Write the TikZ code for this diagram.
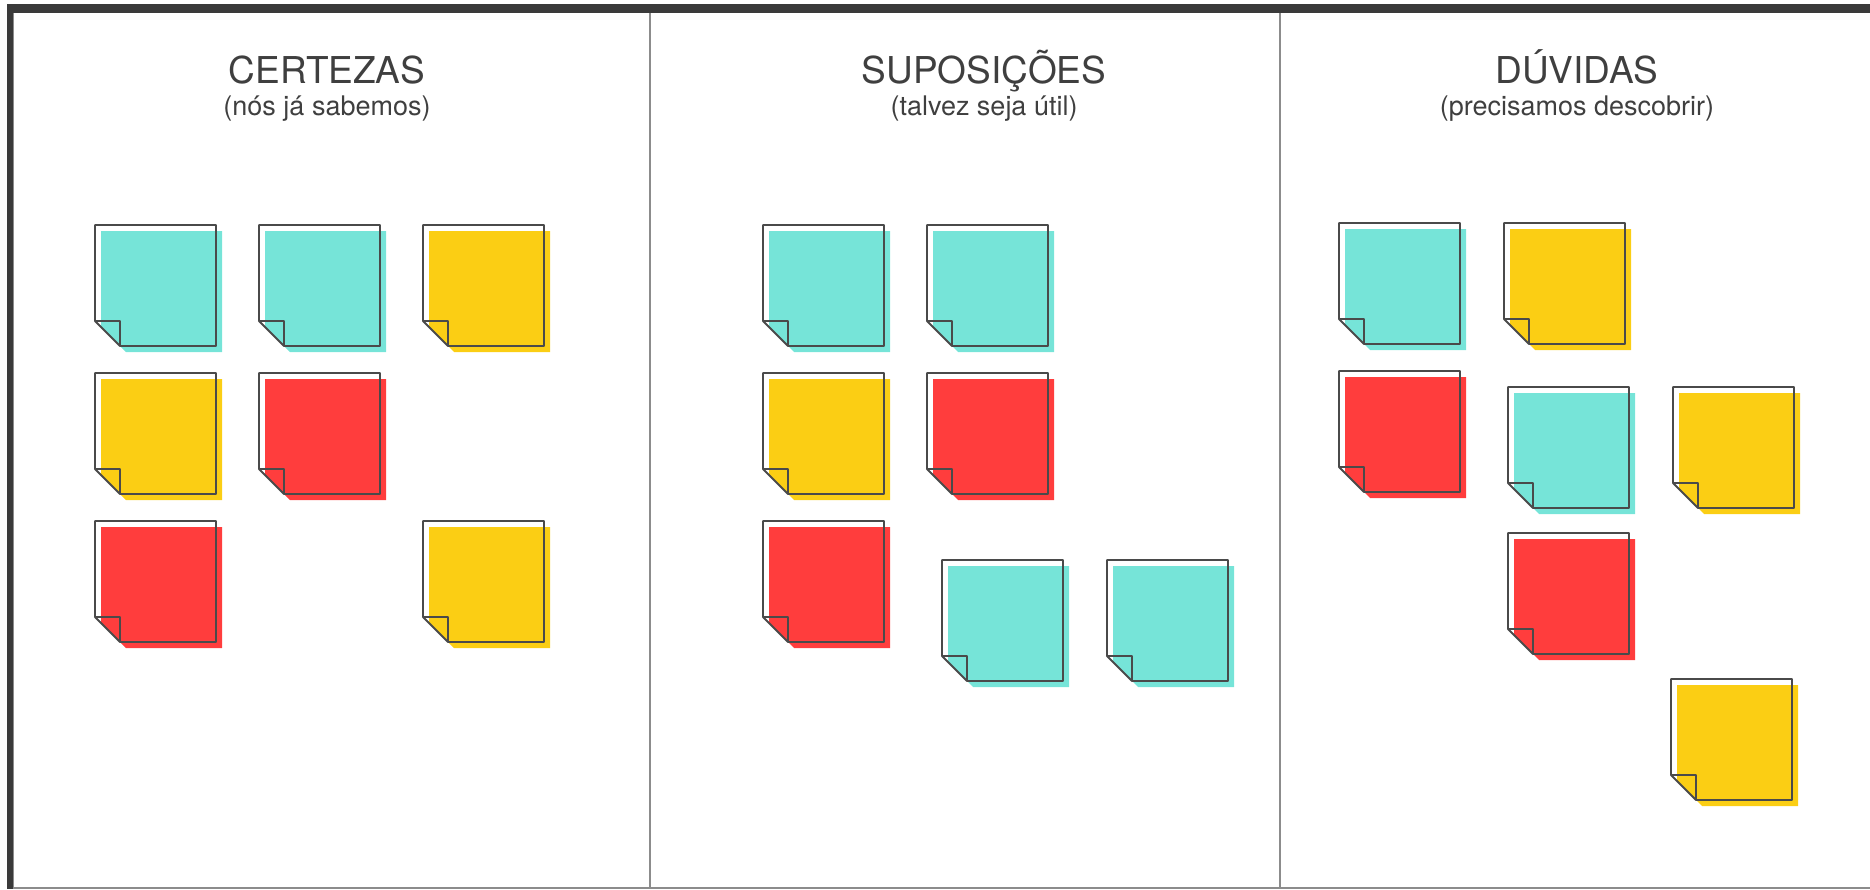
\documentclass[tikz,border=0pt]{standalone}
\usepackage{fontspec}
\setmainfont{TeX Gyre Heros}
\usepackage{xcolor}
\usepackage{tikz}
\usetikzlibrary{positioning}
\definecolor{ink}{HTML}{3F3F3F}
\definecolor{board}{HTML}{3A3A3A}
\definecolor{rule}{HTML}{8C8C8C}
\definecolor{noteline}{HTML}{4A4A4A}
\definecolor{postteal}{HTML}{76E4D8}
\definecolor{postyellow}{HTML}{FBCE14}
\definecolor{postred}{HTML}{FF3D3D}

\tikzset{
  coltitle/.style={font=\fontsize{37}{40}\selectfont, text=ink, anchor=base, inner sep=0pt},
  colsub/.style={font=\fontsize{27}{30}\selectfont, text=ink, anchor=base, inner sep=0pt},
  note line/.style={draw=noteline, line width=1.8pt, line join=round}
}
% one sticky note: x, y (top left of the outline), colour
\newcommand{\postit}[3]{%
  \begin{scope}[shift={(#1,#2)}]
    \fill[#3] (6,6) -- (127,6) -- (127,127) -- (31,127) -- (6,102) -- cycle;
    \draw[note line] (0,0) -- (121,0) -- (121,121) -- (25,121) -- (0,96) -- cycle
      (0,96) -- (25,96) -- (25,121);
  \end{scope}}

\begin{document}
\begin{tikzpicture}[x=1pt, y=-1pt]
  \useasboundingbox (0,0) rectangle (1870,889);
  % Board
  \draw[rule, line width=2pt] (13,13) -- (13,888) -- (1870,888);
  \fill[board] (7,4) rectangle (1870,13);
  \fill[board] (7,4) rectangle (13,889);
  \foreach \x in {650,1280}
    \draw[rule, line width=1.5pt] (\x,13) -- (\x,888);
  % Headers
  \node[coltitle] (certezas) at (327,83) {CERTEZAS};
  \node[colsub] (certezas sub) at (327,115) {(nós já sabemos)};
  \node[coltitle] (suposicoes) at (984,83) {SUPOSIÇÕES};
  \node[colsub] (suposicoes sub) at (984,115) {(talvez seja útil)};
  \node[coltitle] (duvidas) at (1577,83) {DÚVIDAS};
  \node[colsub] (duvidas sub) at (1577,115) {(precisamos descobrir)};
  % Notes
  \foreach \x/\y/\c in {95/225/postteal, 259/225/postteal, 423/225/postyellow,
      95/373/postyellow, 259/373/postred, 95/521/postred, 423/521/postyellow}
    \postit{\x}{\y}{\c};
  \foreach \x/\y/\c in {763/225/postteal, 927/225/postteal, 763/373/postyellow,
      927/373/postred, 763/521/postred, 942/560/postteal, 1107/560/postteal}
    \postit{\x}{\y}{\c};
  \foreach \x/\y/\c in {1339/223/postteal, 1504/223/postyellow, 1339/371/postred,
      1508/387/postteal, 1673/387/postyellow, 1508/533/postred, 1671/679/postyellow}
    \postit{\x}{\y}{\c};
\end{tikzpicture}
\end{document}
